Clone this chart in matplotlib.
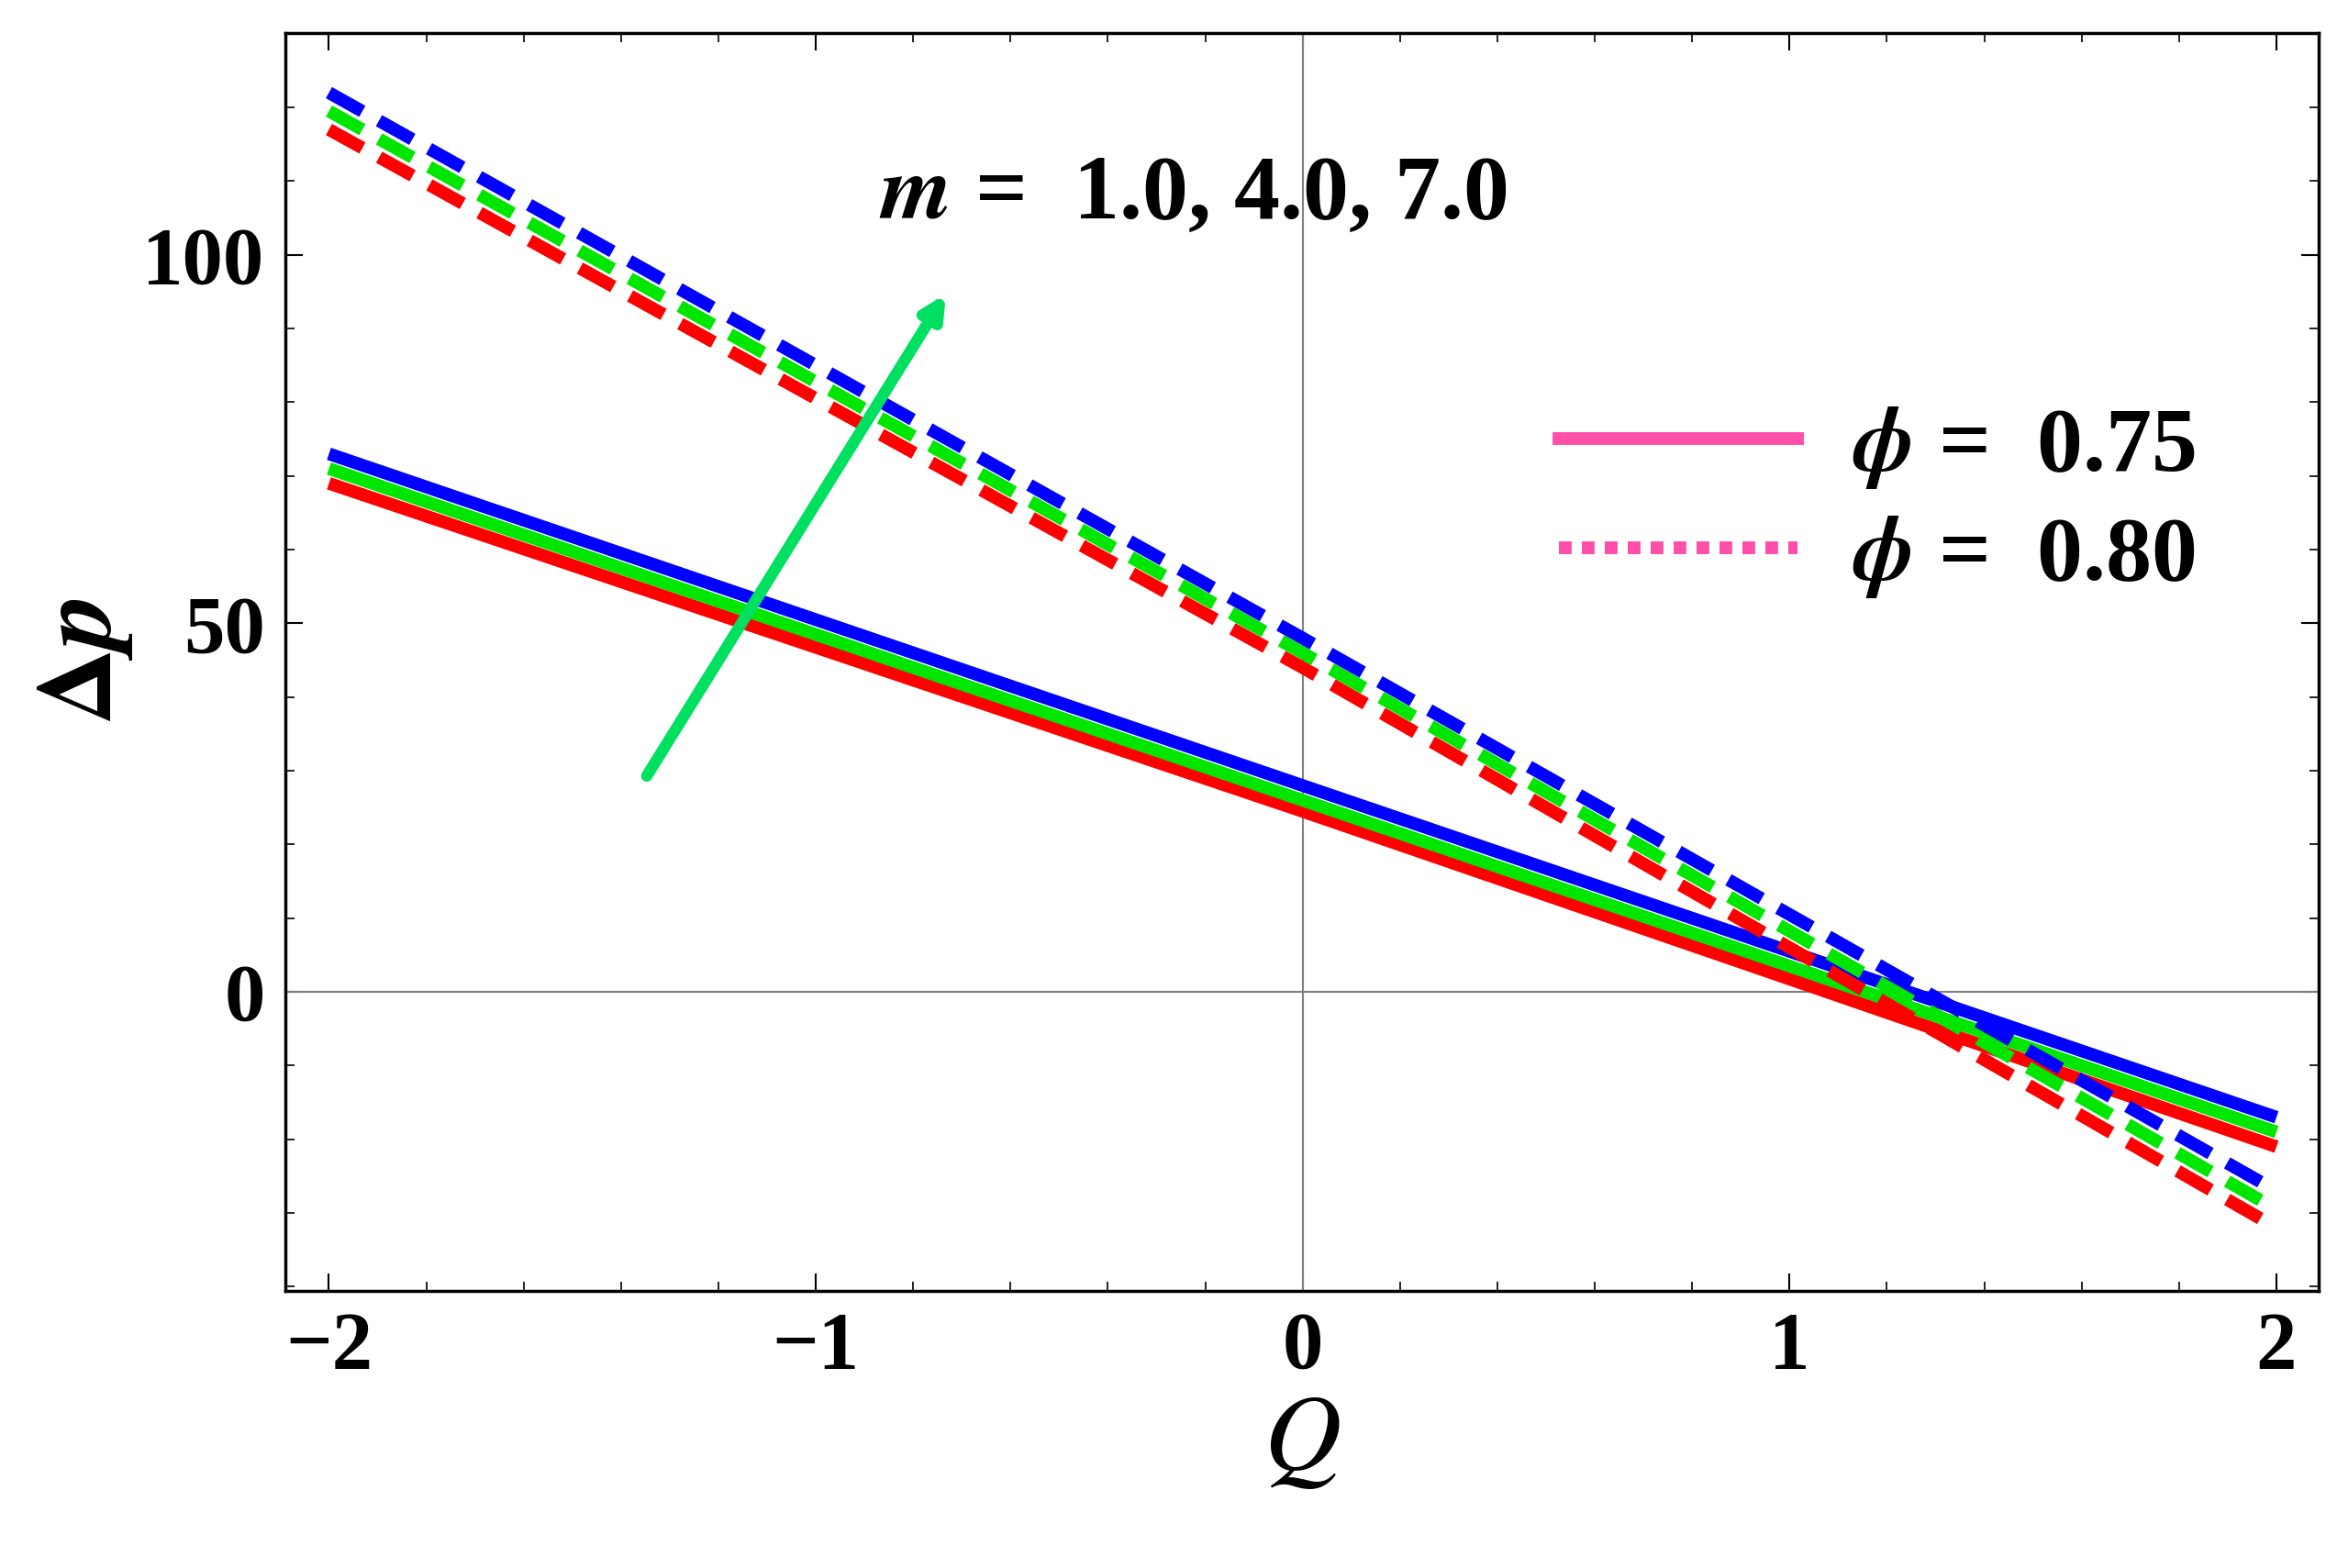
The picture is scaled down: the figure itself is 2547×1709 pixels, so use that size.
import matplotlib
matplotlib.use("Agg")
import matplotlib.pyplot as plt
from matplotlib.lines import Line2D

Q = [-2.0, 0.0, 2.0]
solid_red = [69, 24.5, -21]
solid_green = [71, 26, -19]
solid_blue = [73, 28, -17]
dash_red = [117, 44, -32]
dash_green = [119.5, 46, -29.5]
dash_blue = [122, 48, -27]
colors = ["red", "#00e600", "blue"]
xticks = [-2, -1, 0, 1, 2]
yticks = [0, 50, 100]

plt.rcParams['font.family'] = ['Liberation Serif', 'DejaVu Serif']
plt.rcParams['mathtext.fontset'] = 'stix'
fig = plt.figure(figsize=(25.47, 17.09), dpi=100)
ax = fig.add_axes([0.122, 0.177, 0.870, 0.802])
ax.axhline(0, color='gray', lw=1.5)
ax.axvline(0, color='gray', lw=1.5)
for s, c in zip([solid_red, solid_green, solid_blue], colors):
    ax.plot(Q, s, color=c, lw=10, solid_capstyle='butt')
for s, c in zip([dash_red, dash_green, dash_blue], colors):
    ax.plot(Q, s, color=c, lw=10, dashes=(3.0, 1.5))
ax.set_xlim(-2.09, 2.086)
ax.set_ylim(-40.5, 130.1)
ax.set_xticks(xticks)
ax.set_yticks(yticks)
ax.set_xticklabels(['−2', '−1', '0', '1', '2'])
ax.minorticks_on()
ax.tick_params(which='both', direction='in', top=True, right=True)
ax.tick_params(which='major', length=14, width=1.5, labelsize=64, pad=16)
ax.tick_params(which='minor', length=7, width=1.2)
for lab in ax.get_xticklabels() + ax.get_yticklabels():
    lab.set_fontweight('bold')
for sp in ax.spines.values():
    sp.set_linewidth(2.5)
ax.set_xlabel('$Q$', fontsize=84, labelpad=8)
ax.set_ylabel(r'$\mathbf{\Delta}\boldsymbol{p}$', fontsize=84, labelpad=6)
ax.annotate('', xy=(-0.73, 95), xytext=(-1.35, 29),
            arrowprops=dict(arrowstyle='-|>,head_length=1.4,head_width=0.7', color='#00e060', lw=9))
ax.text(-0.87, 108, r'$\boldsymbol{m}$ =  1.0, 4.0, 7.0', fontsize=72, fontweight='bold', va='center')
handles = [Line2D([], [], color='#ff4fa8', lw=10),
           Line2D([], [], color='#ff4fa8', lw=10, dashes=(1.0, 0.8))]
ax.legend(handles, [r'$\boldsymbol{\phi}$ =  0.75', r'$\boldsymbol{\phi}$ =  0.80'],
          loc='upper right', bbox_to_anchor=(0.98, 0.77), frameon=False,
          prop={'size': 72, 'weight': 'bold'}, handlelength=2.6, labelspacing=0.25,
          handletextpad=0.6)
fig.savefig('out.png', dpi=100)
